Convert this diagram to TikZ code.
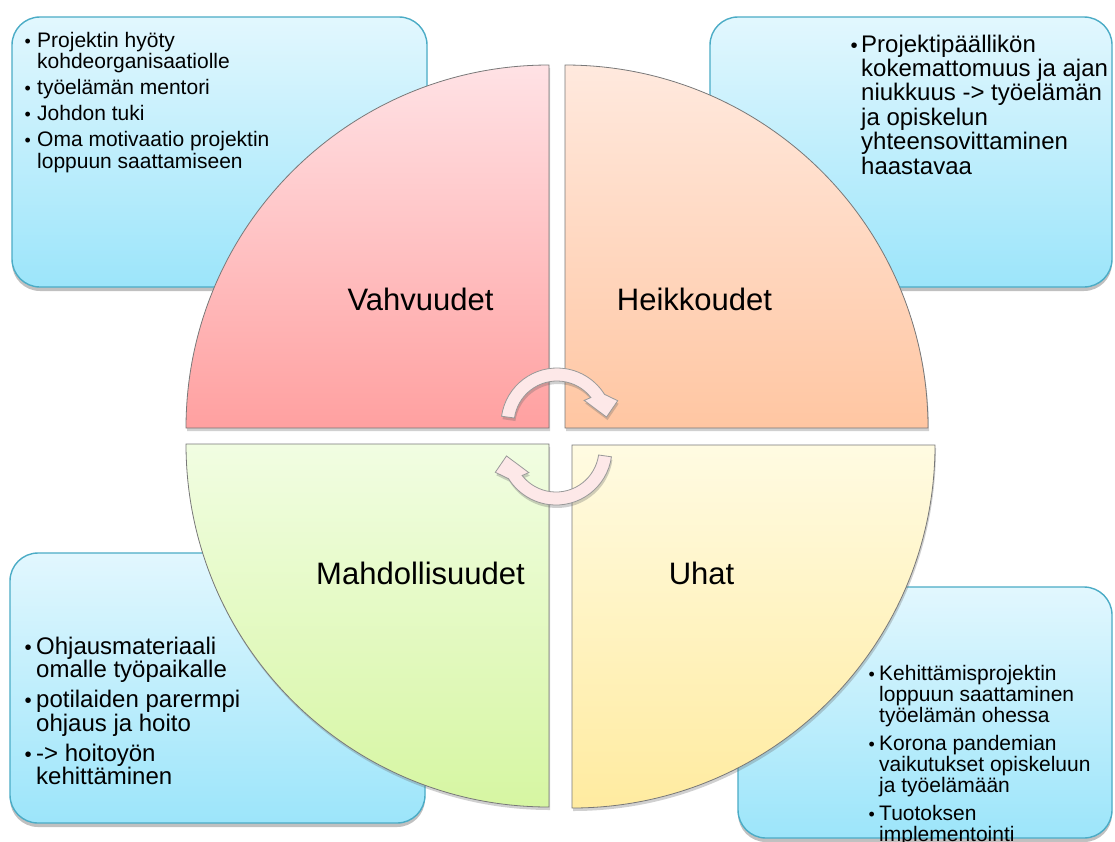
\documentclass[tikz,border=0pt]{standalone}
\usepackage{fontspec}
\setmainfont{Liberation Sans}
\usetikzlibrary{shadows}
\definecolor{boxtop}{RGB}{226,247,254}
\definecolor{boxbot}{RGB}{156,229,250}
\definecolor{boxline}{RGB}{75,172,198}
\definecolor{quadline}{RGB}{120,120,120}
\definecolor{tltop}{RGB}{255,226,229}
\definecolor{tlbot}{RGB}{255,160,160}
\definecolor{trtop}{RGB}{255,233,222}
\definecolor{trbot}{RGB}{255,198,162}
\definecolor{bltop}{RGB}{241,253,226}
\definecolor{blbot}{RGB}{214,246,162}
\definecolor{brtop}{RGB}{255,251,226}
\definecolor{brbot}{RGB}{255,235,160}
\definecolor{arrowfill}{RGB}{253,232,232}
\newcommand{\bl}[1]{\makebox[#1][l]{\hspace{-2.5pt}\scalebox{0.85}{\textbullet}}}
\newcommand{\ind}[1]{\hspace*{#1}}
\begin{document}
\begin{tikzpicture}[x=1pt,y=-1pt,
  infobox/.style={draw=boxline, line width=1.4pt, rounded corners=28pt,
    top color=boxtop, bottom color=boxbot,
    drop shadow={shadow xshift=0pt, shadow yshift=-4pt, opacity=0.35, fill=black!70}},
  quad/.style={draw=quadline, line width=0.8pt,
    drop shadow={shadow xshift=1pt, shadow yshift=-3pt, opacity=0.3, fill=black!60}},
  qlabel/.style={anchor=base, inner sep=0pt, font=\fontsize{31}{31}\selectfont},
  boxtext/.style={anchor=base west, inner sep=0pt, align=left},
  arrowshape/.style={fill=arrowfill, draw=black!40, line width=0.8pt,
    drop shadow={shadow xshift=1pt, shadow yshift=-3pt, opacity=0.3, fill=black!60}}]
\useasboundingbox (0,0) rectangle (1115,841);
\clip (0,0) rectangle (1115,841);
\fill[white] (0,0) rectangle (1115,841);

% info boxes
\path[infobox] (12,17) rectangle (427,287);
\path[infobox] (710,17) rectangle (1112,287);
\path[infobox] (10,553) rectangle (425,823);
\path[infobox] (738,587) rectangle (1112,838);

% quadrants
\path[quad, top color=tltop, bottom color=tlbot]
  (549,428) -- (186,428) arc[start angle=180, end angle=270, radius=363] -- cycle;
\path[quad, top color=trtop, bottom color=trbot]
  (565,428) -- (928,428) arc[start angle=0, end angle=-90, radius=363] -- cycle;
\path[quad, top color=bltop, bottom color=blbot]
  (549,444) -- (186,444) arc[start angle=180, end angle=90, radius=363] -- cycle;
\path[quad, top color=brtop, bottom color=brbot]
  (572,445) -- (935,445) arc[start angle=0, end angle=90, radius=363] -- cycle;

% circular arrows
\begin{scope}[shift={(557,424)}]
\path[arrowshape] (188:56) arc[start angle=188, end angle=328, radius=56]
  -- (339:65) -- (352:50) -- (319:36) -- (322:43)
  arc[start angle=322, end angle=188, radius=43] -- cycle;
\end{scope}
\begin{scope}[shift={(556,449)}, rotate=180]
\path[arrowshape] (188:56) arc[start angle=188, end angle=328, radius=56]
  -- (339:65) -- (352:50) -- (319:36) -- (322:43)
  arc[start angle=322, end angle=188, radius=43] -- cycle;
\end{scope}

% quadrant labels
\node[qlabel] (vahvuudet) at (420.5,310) {Vahvuudet};
\node[qlabel] (heikkoudet) at (694.5,310) {Heikkoudet};
\node[qlabel] (mahdollisuudet) at (420.5,584) {Mahdollisuudet};
\node[qlabel] (uhat) at (701.5,584) {Uhat};

% box texts (anchored at the baseline of the last line)
\node[boxtext, font=\fontsize{21}{21.5}\selectfont] (strengths) at (27,168)
  {\bl{10pt}Projektin hyöty\\ \ind{10pt}kohdeorganisaatiolle\\[4.5pt]
   \bl{10pt}työelämän mentori\\[4.5pt]
   \bl{10pt}Johdon tuki\\[4.5pt]
   \bl{10pt}Oma motivaatio projektin\\ \ind{10pt}loppuun saattamiseen};
\node[boxtext, font=\fontsize{24}{24.4}\selectfont] (weaknesses) at (853,174)
  {\bl{8pt}Projektipäällikön\\ \ind{8pt}kokemattomuus ja ajan\\
   \ind{8pt}niukkuus -> työelämän\\ \ind{8pt}ja opiskelun\\
   \ind{8pt}yhteensovittaminen\\ \ind{8pt}haastavaa};
\node[boxtext, font=\fontsize{24}{23.5}\selectfont] (opportunities) at (27,784.5)
  {\bl{9pt}Ohjausmateriaali\\ \ind{9pt}omalle työpaikalle\\[6.5pt]
   \bl{9pt}potilaiden parermpi\\ \ind{9pt}ohjaus ja hoito\\[6.5pt]
   \bl{9pt}-> hoitoyön\\ \ind{9pt}kehittäminen};
\node[boxtext, font=\fontsize{21}{21}\selectfont] (threats) at (871,841)
  {\bl{8pt}Kehittämisprojektin\\ \ind{8pt}loppuun saattaminen\\ \ind{8pt}työelämän ohessa\\[7pt]
   \bl{8pt}Korona pandemian\\ \ind{8pt}vaikutukset opiskeluun\\ \ind{8pt}ja työelämään\\[7pt]
   \bl{8pt}Tuotoksen\\ \ind{8pt}implementointi};
\end{tikzpicture}
\end{document}
